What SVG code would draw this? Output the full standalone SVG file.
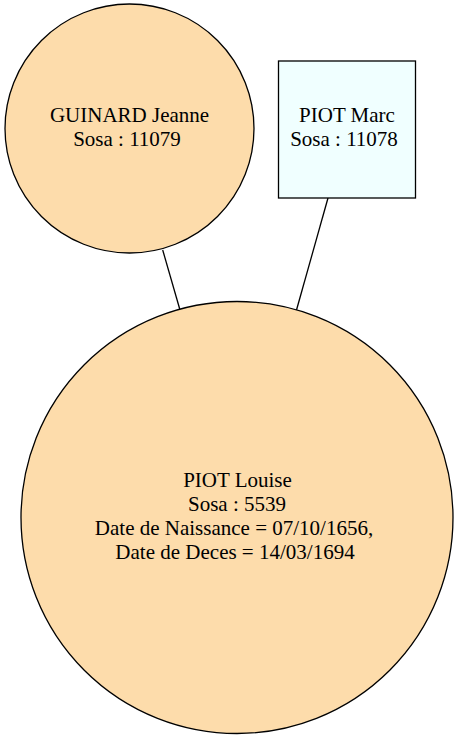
<svg xmlns="http://www.w3.org/2000/svg" width="459" height="739" viewBox="0 0 459 739">
<style>
.n{stroke:#000;stroke-width:1.3}
.f{fill:#fddcab}
.m{fill:#f0ffff}
text{font-family:"Liberation Serif","Times New Roman",serif;font-size:21px;text-anchor:middle;fill:#000}
.e{stroke:#000;stroke-width:1.3;fill:none}
</style>
<rect width="459" height="739" fill="#fff"/>
<g id="edges">
<line class="e" x1="162.7" y1="250" x2="180" y2="310"/>
<line class="e" x1="328" y1="198" x2="296.5" y2="310"/>
</g>
<g id="guinard">
<circle class="n f" cx="129.5" cy="128.5" r="124.5"/>
<text x="129.5" y="122">GUINARD Jeanne</text>
<text x="127" y="146">Sosa : 11079</text>
</g>
<g id="piotmarc">
<rect class="n m" x="278.5" y="61" width="137" height="137"/>
<text x="347" y="122">PIOT Marc</text>
<text x="344" y="146">Sosa : 11078</text>
</g>
<g id="piotlouise">
<circle class="n f" cx="237" cy="517.5" r="216"/>
<text x="237.5" y="487">PIOT Louise</text>
<text x="237" y="511">Sosa : 5539</text>
<text x="234" y="535">Date de Naissance = 07/10/1656,</text>
<text x="235" y="559">Date de Deces = 14/03/1694</text>
</g>
</svg>
